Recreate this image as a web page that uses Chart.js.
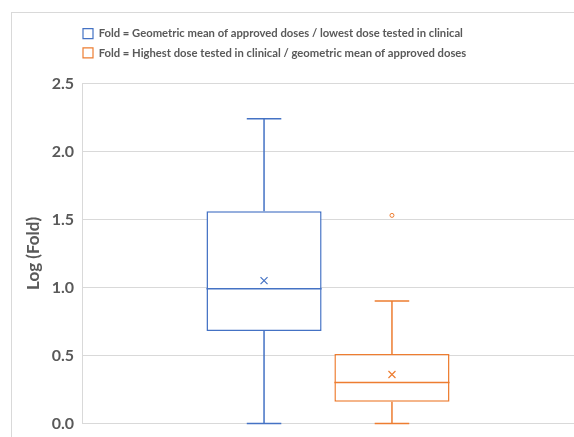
<!DOCTYPE html>
<html>
<head>
<meta charset="utf-8">
<script src="https://cdn.jsdelivr.net/npm/chart.js@4"></script>
<style>
  html, body { margin: 0; padding: 0; background: #fff; overflow: hidden; }
  #frame { position: absolute; left: 11px; top: 12px; width: 600px; height: 500px; border: 1px solid #d9d9d9; }
  #box { position: absolute; left: 0; top: 0; width: 563px; height: 428px; }
</style>
</head>
<body>
<div id="frame"><div id="box"><canvas id="chartCanvas"></canvas></div></div>
<script>
const categories = [''];
const seriesNames = [
  'Fold = Geometric mean of approved doses / lowest dose tested in clinical',
  'Fold = Highest dose tested in clinical / geometric mean of approved doses'
];
const whiskerMin = [0.0, 0.0];
const q1Values = [0.68, 0.16];
const medianValues = [0.99, 0.30];
const q3Values = [1.56, 0.51];
const whiskerMax = [2.24, 0.90];
const meanValues = [1.05, 0.36];
const outliers = [[], [1.53]];
const yTicks = [0, 0.5, 1.0, 1.5, 2.0, 2.5];

const seriesColors = ['#4472C4', '#ED7D31'];
const textColor = '#595959';

// whiskers, median, mean and outliers on top of the floating bars
const boxExtras = {
  id: 'boxExtras',
  beforeInit(chart) {
    // extra room under the legend
    const fit = chart.legend.fit;
    chart.legend.fit = function () {
      fit.call(this);
      this.height += 15;
    };
  },
  afterLayout(chart) {
    chart.legend.left = 63;
  },
  afterDatasetsDraw(chart) {
    const ctx = chart.ctx;
    const y = chart.scales.y;
    chart.data.datasets.forEach((ds, i) => {
      const bar = chart.getDatasetMeta(i).data[0];
      const cx = bar.x;
      const half = bar.width / 2;
      const cap = bar.width * 0.15;
      ctx.save();
      ctx.strokeStyle = seriesColors[i];
      ctx.lineWidth = 1.5;
      ctx.beginPath();
      const med = y.getPixelForValue(medianValues[i]);
      ctx.moveTo(cx - half, med);
      ctx.lineTo(cx + half, med);
      ctx.moveTo(cx, y.getPixelForValue(q3Values[i]));
      ctx.lineTo(cx, y.getPixelForValue(whiskerMax[i]));
      ctx.moveTo(cx - cap, y.getPixelForValue(whiskerMax[i]));
      ctx.lineTo(cx + cap, y.getPixelForValue(whiskerMax[i]));
      ctx.moveTo(cx, y.getPixelForValue(q1Values[i]));
      ctx.lineTo(cx, y.getPixelForValue(whiskerMin[i]));
      ctx.moveTo(cx - cap, y.getPixelForValue(whiskerMin[i]));
      ctx.lineTo(cx + cap, y.getPixelForValue(whiskerMin[i]));
      ctx.stroke();

      const my = y.getPixelForValue(meanValues[i]);
      ctx.lineWidth = 1.2;
      ctx.beginPath();
      ctx.moveTo(cx - 3.5, my - 3.5);
      ctx.lineTo(cx + 3.5, my + 3.5);
      ctx.moveTo(cx + 3.5, my - 3.5);
      ctx.lineTo(cx - 3.5, my + 3.5);
      ctx.stroke();

      ctx.lineWidth = 1;
      outliers[i].forEach(v => {
        ctx.beginPath();
        ctx.arc(cx, y.getPixelForValue(v), 2, 0, Math.PI * 2);
        ctx.stroke();
      });
      ctx.restore();
    });
  }
};

const chartContainer = document.getElementById('chartCanvas');

const data = {
  labels: categories,
  datasets: seriesNames.map((name, i) => ({
    label: name,
    data: [[q1Values[i], q3Values[i]]],
    backgroundColor: '#ffffff',
    borderColor: seriesColors[i],
    borderWidth: 1.5,
    borderSkipped: false,
    categoryPercentage: 0.52,
    barPercentage: 0.9,
  })),
};

const options = {
  responsive: true,
  maintainAspectRatio: false,
  animation: false,
  layout: { padding: { top: 7, right: 1, bottom: 0, left: 0 } },
  plugins: {
    tooltip: { enabled: false },
    legend: {
      position: 'top',
      align: 'start',
      labels: {
        boxWidth: 10,
        boxHeight: 10,
        padding: 8,
        color: textColor,
        font: { family: 'Lato', size: 11.25, weight: 'bold' },
        generateLabels: (chart) => Chart.defaults.plugins.legend.labels.generateLabels(chart)
          .map(item => ({ ...item, lineWidth: 1.2 })),
      },
    },
  },
  scales: {
    x: { display: false },
    y: {
      min: 0,
      max: 2.5,
      afterFit: (scale) => { scale.width = 70; },
      afterBuildTicks: (scale) => { scale.ticks = yTicks.map(v => ({ value: v })); },
      ticks: {
        padding: 8,
        color: textColor,
        font: { family: 'Lato', size: 16, weight: 'bold' },
        callback: (value) => value.toFixed(1),
      },
      grid: { color: '#d9d9d9', drawTicks: false },
      border: { color: '#d9d9d9' },
      title: {
        display: true,
        text: 'Log (Fold)',
        color: textColor,
        font: { family: 'Lato', size: 17, weight: 'bold' },
        padding: { top: 11, bottom: 0 },
      },
    },
  },
};

const myChart = new Chart(chartContainer, {
  type: 'bar',
  data: data,
  options: options,
  plugins: [boxExtras],
});
</script>
</body>
</html>
